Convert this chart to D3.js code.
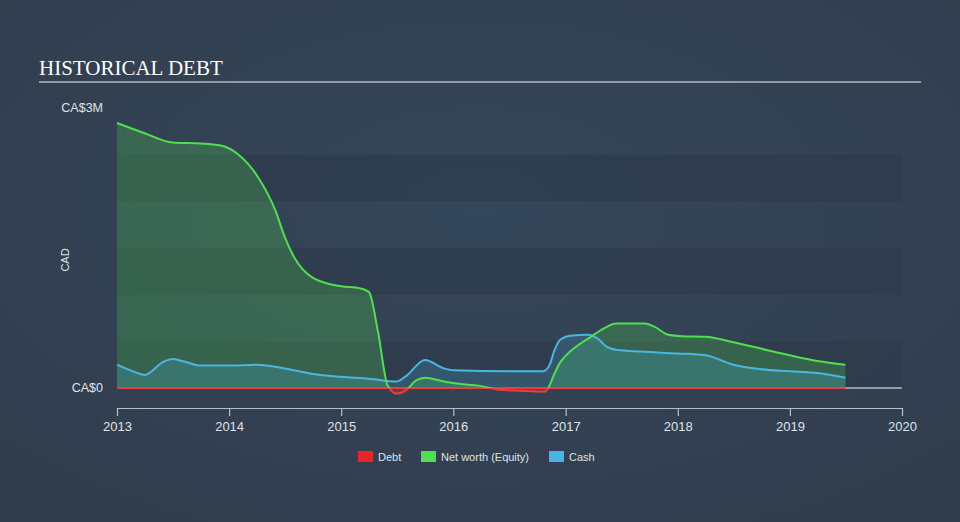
<!DOCTYPE html>
<html><head><meta charset="utf-8">
<script src="https://cdn.jsdelivr.net/npm/d3@7"></script>
<style>
html,body{margin:0;padding:0;background:#333f50;}
svg{display:block;}
</style></head>
<body>
<svg id="chart" width="960" height="522"></svg>
<script>
const title = "HISTORICAL DEBT";
const yTickLabels = ["CA$0", "CA$3M"];
const yTickValues = [0, 3];
const xTickLabels = ["2013","2014","2015","2016","2017","2018","2019","2020"];
const legendLabels = ["Debt", "Net worth (Equity)", "Cash"];

const debtDates = ["2013-01-01","2019-07-01"];
const debtValues = [0, 0];

const equityDates = ["2013-01-01","2013-04-01","2013-07-01","2013-10-01","2013-12-01","2014-02-01","2014-04-01","2014-06-01","2014-07-01","2014-08-01","2014-10-01","2015-01-01","2015-03-01","2015-04-01","2015-05-01","2015-06-01","2015-07-01","2015-08-01","2015-09-01","2015-10-01","2015-12-01","2016-02-01","2016-04-01","2016-06-01","2016-08-01","2016-10-25","2016-11-05","2016-11-25","2016-12-15","2017-01-15","2017-02-15","2017-03-20","2017-05-01","2017-06-15","2017-09-15","2017-10-15","2017-12-01","2018-01-15","2018-04-01","2018-07-01","2018-10-01","2019-01-01","2019-04-01","2019-07-01"];
const equityValues = [2.84,2.73,2.63,2.62,2.60,2.50,2.28,1.90,1.62,1.40,1.18,1.09,1.07,1.03,0.60,0.03,-0.06,-0.02,0.08,0.11,0.07,0.04,0.02,-0.02,-0.03,-0.04,0.0,0.15,0.28,0.39,0.47,0.54,0.63,0.69,0.69,0.66,0.57,0.555,0.55,0.49,0.42,0.35,0.29,0.25];

const cashDates = ["2013-01-01","2013-03-01","2013-04-01","2013-06-01","2013-07-01","2013-08-01","2013-10-01","2014-01-01","2014-04-01","2014-07-01","2014-10-01","2015-01-01","2015-04-01","2015-07-01","2015-08-01","2015-10-01","2015-12-01","2016-01-01","2016-07-01","2016-10-20","2016-11-10","2016-11-25","2016-12-15","2017-01-15","2017-03-15","2017-04-15","2017-05-15","2017-06-15","2017-09-01","2018-01-01","2018-04-01","2018-07-01","2018-10-01","2019-01-01","2019-04-01","2019-07-01"];
const cashValues = [0.25,0.17,0.14,0.28,0.31,0.29,0.24,0.24,0.25,0.21,0.15,0.12,0.10,0.07,0.13,0.30,0.21,0.19,0.18,0.18,0.25,0.40,0.52,0.56,0.57,0.53,0.44,0.41,0.39,0.37,0.35,0.25,0.20,0.18,0.16,0.11];

(function(){
const parse = d3.timeParse("%Y-%m-%d");
const toSeries = (ds, vs) => ds.map((d, i) => ({date: parse(d), v: vs[i]}));
const debt = toSeries(debtDates, debtValues);
const equity = toSeries(equityDates, equityValues);
const cash = toSeries(cashDates, cashValues);

const svg = d3.select("#chart");
const W = 960, H = 522;
const mLeft = 117, mRight = 902, mTop = 108, mBottom = 388;

const defs = svg.append("defs");
const bg = defs.append("radialGradient").attr("id","bg").attr("cx","50%").attr("cy","40%").attr("r","70%");
bg.append("stop").attr("offset","0%").attr("stop-color","#35475a");
bg.append("stop").attr("offset","100%").attr("stop-color","#313d4d");
svg.append("rect").attr("width",W).attr("height",H).attr("fill","url(#bg)");

const x = d3.scaleTime().domain([parse("2013-01-01"), parse("2020-01-01")]).range([mLeft, mRight]);
const y = d3.scaleLinear().domain([0, 3]).range([mBottom, mTop]);

const bandEdges = d3.range(0, 3.01, 0.5);
for (let i = 0; i < 6; i++) {
  if (i % 2 === 0) {
    svg.append("rect").attr("x", mLeft).attr("width", mRight - mLeft)
      .attr("y", y(bandEdges[i+1])).attr("height", y(bandEdges[i]) - y(bandEdges[i+1]))
      .attr("fill", "#2c3848").attr("opacity", 0.55);
  }
}

svg.append("text").attr("x", 39).attr("y", 75).text(title)
  .attr("font-family", "Liberation Serif, Times New Roman, serif").attr("font-size", 21)
  .attr("fill", "#ffffff");
svg.append("line").attr("x1", 39).attr("x2", 921).attr("y1", 82).attr("y2", 82)
  .attr("stroke", "#b4b9c0").attr("stroke-width", 1.5);

const font = "Liberation Sans, Arial, sans-serif";

yTickValues.forEach((v, i) => {
  svg.append("text").attr("x", 103).attr("y", y(v)).attr("dy", "0.35em")
    .attr("text-anchor", "end").attr("font-family", font).attr("font-size", 12.5)
    .attr("fill", "#dfe3e8").text(yTickLabels[i]);
});
svg.append("text").attr("transform", `translate(69,${(mTop+mBottom)/2 + 12}) rotate(-90)`)
  .attr("text-anchor","middle").attr("font-family", font).attr("font-size", 11)
  .attr("fill", "#dfe3e8").text("CAD");

defs.append("clipPath").attr("id","pos").append("rect").attr("x",0).attr("y",0).attr("width",W).attr("height",y(0));
defs.append("clipPath").attr("id","neg").append("rect").attr("x",0).attr("y",y(0)).attr("width",W).attr("height",H-y(0));

const curve = d3.curveMonotoneX;
const area = d3.area().x(d => x(d.date)).y0(y(0)).y1(d => y(d.v)).curve(curve);
const line = d3.line().x(d => x(d.date)).y(d => y(d.v)).curve(curve);

svg.append("path").datum(equity).attr("d", area).attr("fill", "#4fd84f").attr("fill-opacity", 0.25).attr("clip-path","url(#pos)");
svg.append("path").datum(equity).attr("d", area).attr("fill", "#e83a3a").attr("fill-opacity", 0.25).attr("clip-path","url(#neg)");
svg.append("path").datum(cash).attr("d", area).attr("fill", "#4ab4e0").attr("fill-opacity", 0.22);

svg.append("line").attr("x1", mLeft).attr("x2", mRight).attr("y1", y(0)).attr("y2", y(0))
  .attr("stroke", "#b9bec6").attr("stroke-width", 1.5);

svg.append("path").datum(cash).attr("d", line).attr("fill","none").attr("stroke","#4bb6e0").attr("stroke-width",2);
svg.append("path").datum(debt).attr("d", line).attr("fill","none").attr("stroke","#e8413a").attr("stroke-width",2);

// faint highlight on the zero line
const glow = defs.append("linearGradient").attr("id","glow");
glow.append("stop").attr("offset","0%").attr("stop-color","#e8413a").attr("stop-opacity",0);
glow.append("stop").attr("offset","50%").attr("stop-color","#d8d8d8").attr("stop-opacity",0.8);
glow.append("stop").attr("offset","100%").attr("stop-color","#e8413a").attr("stop-opacity",0);
svg.append("line").attr("x1", x(parse("2017-03-15"))).attr("x2", x(parse("2018-01-01")))
  .attr("y1", y(0)).attr("y2", y(0)).attr("stroke","url(#glow)").attr("stroke-width",2);

svg.append("path").datum(equity).attr("d", line).attr("fill","none").attr("stroke","#4fe04f").attr("stroke-width",2).attr("clip-path","url(#pos)");
svg.append("path").datum(equity).attr("d", line).attr("fill","none").attr("stroke","#f03c3c").attr("stroke-width",2).attr("clip-path","url(#neg)");

const xAxis = d3.axisBottom(x)
  .tickValues(xTickLabels.map(t => parse(t + "-01-01")))
  .tickFormat((d, i) => xTickLabels[i]).tickSize(8).tickSizeOuter(0);
const gx = svg.append("g").attr("transform", `translate(0,408)`).call(xAxis);
gx.select(".domain").attr("stroke", "#b9bec6").attr("stroke-width", 1.2);
gx.selectAll(".tick line").attr("stroke", "#b9bec6").attr("stroke-width", 1.2);
gx.selectAll(".tick text").attr("fill", "#dfe3e8").attr("font-family", font).attr("font-size", 13).attr("dy", "0.95em");

const legendColors = ["#e8262a", "#4fe04f", "#4ab4e0"];
const legendX = [358, 421, 549];
legendLabels.forEach((l, i) => {
  svg.append("rect").attr("x", legendX[i]).attr("y", 451).attr("width", 15).attr("height", 11).attr("fill", legendColors[i]);
  svg.append("text").attr("x", legendX[i] + 20).attr("y", 457).attr("dy","0.35em")
    .attr("font-family", font).attr("font-size", 11).attr("fill", "#dfe3e8").text(l);
});
})();
</script>
</body></html>
